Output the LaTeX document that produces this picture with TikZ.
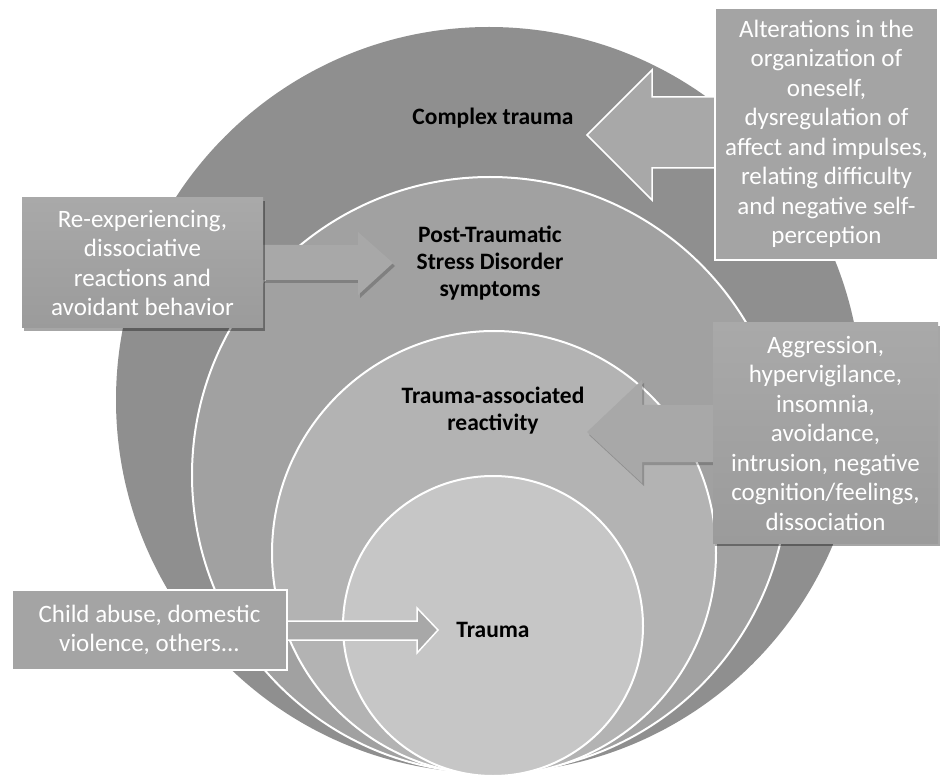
\documentclass[tikz,border=0pt]{standalone}
\usepackage{fontspec}
\setmainfont{Carlito}
\usetikzlibrary{shadows}
\definecolor{ringA}{HTML}{8F8F8F}
\definecolor{ringB}{HTML}{A1A1A1}
\definecolor{ringC}{HTML}{B3B3B3}
\definecolor{ringD}{HTML}{C6C6C6}
\definecolor{boxgray}{HTML}{A4A4A4}
\definecolor{arrowgray}{HTML}{A8A8A8}
\definecolor{shadetop}{HTML}{A9A9A9}
\definecolor{shadebot}{HTML}{9B9B9B}
\begin{document}
\begin{tikzpicture}[x=1pt,y=-1pt,
  ring/.style={draw=white,line width=2pt},
  lbl/.style={font=\fontsize{23.5}{27}\selectfont\bfseries,align=center,text=black},
  boxtxt/.style={font=\fontsize{25}{29.5}\selectfont,align=center,text=white,inner sep=0pt},
  plainbox/.style={boxtxt,draw=white,line width=1.5pt,fill=boxgray},
  shadebox/.style={boxtxt,top color=shadetop,bottom color=shadebot,
    drop shadow={shadow xshift=2pt,shadow yshift=-3pt,opacity=0.35,fill=black}},
  outlinearrow/.style={fill=arrowgray,draw=white,line width=1.5pt,line join=miter},
  shadearrow/.style={fill=arrowgray,
    drop shadow={shadow xshift=2pt,shadow yshift=-3pt,opacity=0.2,fill=black}},
]
\useasboundingbox (0,0) rectangle (940,775);
% nested circles
\fill[ringA] (489,400) circle (373pt);
\filldraw[ring,fill=ringB] (490,475) circle (298pt);
\filldraw[ring,fill=ringC] (494,553) circle (222pt);
\filldraw[ring,fill=ringD] (493,626) circle (150pt);
% circle labels
\node[lbl] (ct) at (493,118) {Complex trauma};
\node[lbl] (ptsd) at (490,263) {Post-Traumatic\\Stress Disorder\\symptoms};
\node[lbl] (tar) at (493,411) {Trauma-associated\\reactivity};
\node[lbl] (tr) at (493,630) {Trauma};
% block arrows
\path[outlinearrow] (725,97) -- (652,97) -- (652,70) -- (587,135) -- (652,200) -- (652,168) -- (725,168) -- cycle;
\path[shadearrow] (250,245) -- (358,245) -- (358,232) -- (393,263) -- (358,295) -- (358,280) -- (250,280) -- cycle;
\path[shadearrow] (725,405) -- (642,405) -- (642,380) -- (587,432) -- (642,483) -- (642,462) -- (725,462) -- cycle;
\path[outlinearrow] (280,621) -- (417,621) -- (417,608) -- (438,630) -- (417,653) -- (417,640) -- (280,640) -- cycle;
% text boxes
\node[plainbox,minimum width=223pt,minimum height=252pt] (b1) at (826.5,134)
  {Alterations in the\\organization of\\oneself,\\dysregulation of\\affect and impulses,\\relating difficulty\\and negative self-\\perception};
\node[shadebox,minimum width=241pt,minimum height=130pt] (b2) at (142.5,263)
  {Re-experiencing,\\dissociative\\reactions and\\avoidant behavior};
\node[shadebox,minimum width=225pt,minimum height=220pt] (b3) at (825.5,433)
  {Aggression,\\hypervigilance,\\insomnia,\\avoidance,\\intrusion, negative\\cognition/feelings,\\dissociation};
\node[plainbox,minimum width=275pt,minimum height=80pt] (b4) at (149.5,630)
  {Child abuse, domestic\\violence, others...};
\end{tikzpicture}
\end{document}
